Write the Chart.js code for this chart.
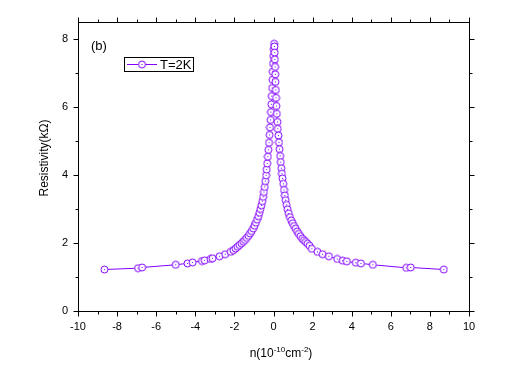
<!DOCTYPE html>
<html>
<head>
<meta charset="utf-8">
<script src="https://cdn.jsdelivr.net/npm/chart.js@4.4.1/dist/chart.umd.min.js"></script>
<style>
  html,body{margin:0;padding:0;background:#fff;}
  #wrap{width:525px;height:366px;position:relative;}
</style>
</head>
<body>
<div id="wrap"><canvas id="c"></canvas></div>
<script>
// carrier density n (1e10 cm^-2) and resistivity (kOhm)
const densityN = [
  -8.65,-6.93,-6.72,-5.00,-4.40,-4.14,-3.66,-3.52,-3.22,-3.12,-2.76,-2.47,-2.19,
  -2.05,-1.94,-1.84,-1.74,-1.64,-1.55,-1.46,-1.37,-1.28,-1.20,-1.12,-1.04,-0.97,
  -0.90,-0.84,-0.78,-0.72,-0.67,-0.62,-0.57,-0.53,-0.49,-0.45,-0.42,-0.38,-0.35,
  -0.32,-0.29,-0.26,-0.23,-0.20,-0.18,-0.15,-0.13,-0.11,-0.09,-0.07,-0.05,-0.04,
  -0.02,-0.01,0.01,0.03,
  0.05,0.06,0.07,0.08,0.09,0.10,0.12,0.13,0.15,0.17,0.20,0.22,0.25,0.28,0.31,
  0.34,0.37,0.40,0.43,0.46,0.50,0.54,0.58,0.62,0.67,0.72,0.78,0.84,0.91,0.98,
  1.05,1.13,1.21,1.29,1.38,1.47,1.56,1.65,1.74,1.84,
  1.96,2.25,2.51,2.83,3.26,3.54,3.75,4.21,4.47,5.08,6.79,7.02,8.71
];
const resistivity = [
  1.22,1.26,1.28,1.36,1.40,1.43,1.47,1.49,1.53,1.55,1.61,1.67,1.74,
  1.79,1.84,1.89,1.94,1.99,2.04,2.09,2.15,2.21,2.28,2.35,2.43,2.51,
  2.60,2.69,2.79,2.89,3.00,3.11,3.23,3.36,3.50,3.65,3.82,3.99,4.16,
  4.34,4.54,4.74,4.95,5.18,5.40,5.62,5.85,6.08,6.32,6.56,6.80,7.04,
  7.28,7.50,7.70,7.86,
  7.78,7.60,7.40,7.18,6.96,6.74,6.50,6.27,6.03,5.80,5.56,5.36,5.16,4.96,4.76,
  4.56,4.38,4.20,4.04,3.90,3.74,3.56,3.40,3.26,3.12,2.99,2.87,2.76,2.66,2.58,
  2.50,2.42,2.34,2.27,2.20,2.13,2.08,2.03,1.98,1.92,
  1.83,1.74,1.67,1.61,1.53,1.48,1.46,1.42,1.40,1.36,1.27,1.28,1.22
];
const xTicks = [-10,-8,-6,-4,-2,0,2,4,6,8,10];
const yTicks = [0,2,4,6,8];
const seriesLabel = 'T=2K';

const PURPLE = '#8000ff';
const FONT = '"Liberation Sans", Arial, sans-serif';

// hollow circle with a centre dot, like the Origin symbol
const sym = document.createElement('canvas');
sym.width = 9; sym.height = 9;
const g = sym.getContext('2d');
g.fillStyle = '#fff'; g.strokeStyle = PURPLE; g.lineWidth = 1;
g.beginPath(); g.arc(4.5, 4.5, 3.5, 0, Math.PI*2); g.fill(); g.stroke();
g.fillStyle = PURPLE; g.fillRect(4, 4, 1, 1);

const points = densityN.map((n,i)=>({x:n, y:resistivity[i]}));

// frame, in/out ticks on all four sides, axis titles, legend and panel label
const framePlugin = {
  id: 'frame',
  afterDraw(chart) {
    const {ctx, chartArea:a, scales:{x, y}} = chart;
    const L = Math.round(a.left)+0.5, R = Math.round(a.right)+0.5;
    const T = Math.round(a.top)+0.5, B = Math.round(a.bottom)+0.5;
    ctx.save();
    ctx.strokeStyle = '#000'; ctx.lineWidth = 1;
    ctx.strokeRect(L, T, R-L, B-T);
    ctx.beginPath();
    for (let v=-10; v<=10; v++) {
      const p = Math.round(x.getPixelForValue(v))+0.5;
      const len = v%2===0 ? 5 : 3;
      ctx.moveTo(p, B); ctx.lineTo(p, B+len);
      ctx.moveTo(p, T); ctx.lineTo(p, T-len);
    }
    for (let v=0; v<=8; v++) {
      const p = Math.round(y.getPixelForValue(v))+0.5;
      const len = v%2===0 ? 5 : 3;
      ctx.moveTo(L, p); ctx.lineTo(L-len, p);
      ctx.moveTo(R, p); ctx.lineTo(R+len, p);
    }
    ctx.stroke();

    ctx.fillStyle = '#000';
    // y title
    ctx.save();
    ctx.translate(48, 158);
    ctx.rotate(-Math.PI/2);
    ctx.font = '12px '+FONT;
    ctx.textAlign = 'center'; ctx.textBaseline = 'alphabetic';
    ctx.fillText('Resistivity(kΩ)', 0, 0);
    ctx.restore();

    // x title with superscripts
    const parts = [['n(10',12,0],['-10',8,-5],['cm',12,0],['-2',8,-5],[')',12,0]];
    let w = 0;
    parts.forEach(([t,s])=>{ ctx.font = s+'px '+FONT; w += ctx.measureText(t).width; });
    let cx = 281 - w/2;
    ctx.textAlign = 'left'; ctx.textBaseline = 'alphabetic';
    parts.forEach(([t,s,dy])=>{
      ctx.font = s+'px '+FONT;
      ctx.fillText(t, cx, 357+dy);
      cx += ctx.measureText(t).width;
    });

    // panel label
    ctx.font = '13px '+FONT;
    ctx.fillText('(b)', 91, 50);

    // legend
    ctx.strokeRect(124.5, 57.5, 69, 14);
    ctx.strokeStyle = PURPLE;
    ctx.beginPath(); ctx.moveTo(127, 64.5); ctx.lineTo(157, 64.5); ctx.stroke();
    ctx.drawImage(sym, 142-4.5, 64.5-4.5);
    ctx.fillStyle = '#000';
    ctx.font = '13px '+FONT;
    ctx.fillText(seriesLabel, 160, 69);
    ctx.restore();
  }
};

new Chart(document.getElementById('c'), {
  type: 'scatter',
  data: {
    datasets: [{
      label: seriesLabel,
      data: points,
      showLine: true,
      borderColor: PURPLE,
      borderWidth: 1,
      pointStyle: sym,
      pointRadius: 4,
      pointHoverRadius: 4
    }]
  },
  options: {
    responsive: true,
    maintainAspectRatio: false,
    animation: false,
    events: [],
    layout: { padding: { left: 18, right: 56, top: 22, bottom: 0 } },
    plugins: { legend: { display: false }, tooltip: { enabled: false } },
    scales: {
      x: {
        type: 'linear', min: -10, max: 10,
        afterFit(s) { s.height = 55; },
        afterBuildTicks(s) { s.ticks = xTicks.map(v=>({value:v})); },
        grid: { display: false, drawTicks: false },
        border: { display: false },
        ticks: { padding: 9, color: '#000', font: { family: FONT, size: 11 }, maxRotation: 0 }
      },
      y: {
        type: 'linear', min: 0, max: 8.5,
        afterFit(s) { s.width = 60; },
        afterBuildTicks(s) { s.ticks = yTicks.map(v=>({value:v})); },
        grid: { display: false, drawTicks: false },
        border: { display: false },
        ticks: { padding: 10, color: '#000', font: { family: FONT, size: 11 } }
      }
    }
  },
  plugins: [framePlugin]
});
</script>
</body>
</html>
